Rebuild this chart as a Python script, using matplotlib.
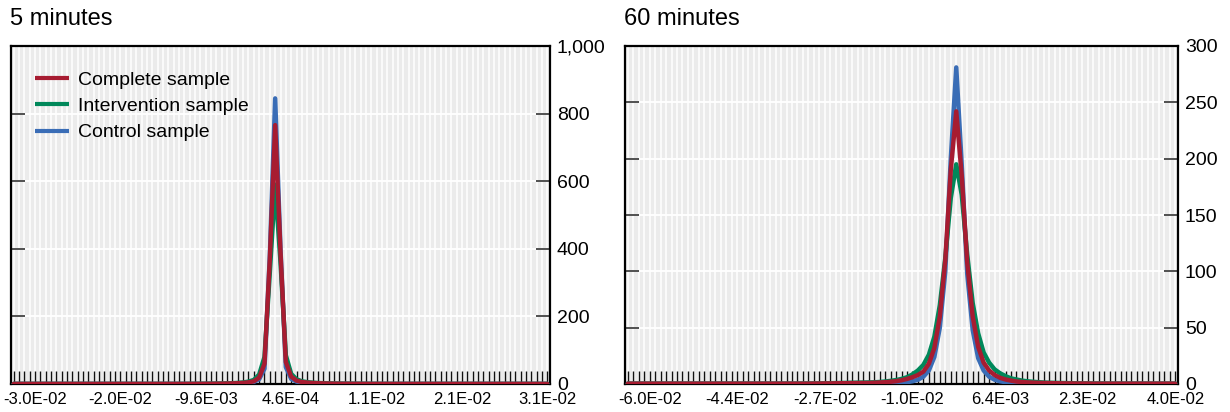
import matplotlib
matplotlib.use("Agg")
import matplotlib.pyplot as plt
from matplotlib.ticker import FixedLocator, FuncFormatter
import numpy as np

plt.rcParams['font.family'] = ['Liberation Sans', 'DejaVu Sans']

# ---------------- data ----------------
titles = ["5 minutes", "60 minutes"]
series_names = ["Complete sample", "Intervention sample", "Control sample"]

xlabels_5 = ["-3.0E-02", "-2.0E-02", "-9.6E-03", "4.6E-04", "1.1E-02", "2.1E-02", "3.1E-02"]
xlabels_60 = ["-6.0E-02", "-4.4E-02", "-2.7E-02", "-1.0E-02", "6.4E-03", "2.3E-02", "4.0E-02"]
ylim_5 = 1000
ylim_60 = 300
yticks_5 = [0, 200, 400, 600, 800, 1000]
yticks_60 = [0, 50, 100, 150, 200, 250, 300]

complete_5 = [0.3, 0.3, 0.3, 0.3, 0.3, 0.3, 0.3, 0.3, 0.3, 0.3,
              0.3, 0.3, 0.3, 0.3, 0.3, 0.3, 0.3, 0.3, 0.3, 0.3,
              0.3, 0.3, 0.3, 0.3, 0.3, 0.3, 0.3, 0.3, 0.3, 0.3,
              0.3, 0.3, 0.3, 0.3, 0.4, 0.4, 0.5, 0.6, 0.8, 1.0,
              1.3, 1.7, 2.3, 3.2, 4.8, 8, 19, 60, 370, 766,
              390, 65, 22, 10, 6, 4, 3, 2.2, 1.7, 1.3,
              1.0, 0.8, 0.7, 0.6, 0.5, 0.4, 0.4, 0.3, 0.3, 0.3,
              0.3, 0.3, 0.3, 0.3, 0.3, 0.3, 0.3, 0.3, 0.3, 0.3,
              0.3, 0.3, 0.3, 0.3, 0.3, 0.3, 0.3, 0.3, 0.3, 0.3,
              0.3, 0.3, 0.3, 0.3, 0.3, 0.3, 0.3, 0.3, 0.3, 0.3,
              0.3]
intervention_5 = [0.3, 0.3, 0.3, 0.3, 0.3, 0.3, 0.3, 0.3, 0.3, 0.3,
                  0.3, 0.3, 0.3, 0.3, 0.3, 0.3, 0.3, 0.3, 0.3, 0.3,
                  0.3, 0.3, 0.3, 0.3, 0.3, 0.3, 0.3, 0.3, 0.3, 0.3,
                  0.3, 0.3, 0.3, 0.4, 0.5, 0.6, 0.7, 0.9, 1.1, 1.4,
                  1.8, 2.4, 3.3, 4.6, 7, 12, 28, 80, 330, 590,
                  360, 85, 30, 14, 8, 5.5, 4, 3, 2.3, 1.8,
                  1.4, 1.1, 0.9, 0.8, 0.7, 0.6, 0.5, 0.4, 0.4, 0.3,
                  0.3, 0.3, 0.3, 0.3, 0.3, 0.3, 0.3, 0.3, 0.3, 0.3,
                  0.3, 0.3, 0.3, 0.3, 0.3, 0.3, 0.3, 0.3, 0.3, 0.3,
                  0.3, 0.3, 0.3, 0.3, 0.3, 0.3, 0.3, 0.3, 0.3, 0.3,
                  0.3]
control_5 = [0.2, 0.2, 0.2, 0.2, 0.2, 0.2, 0.2, 0.2, 0.2, 0.2,
             0.2, 0.2, 0.2, 0.2, 0.2, 0.2, 0.2, 0.2, 0.2, 0.2,
             0.2, 0.2, 0.2, 0.2, 0.2, 0.2, 0.2, 0.2, 0.2, 0.2,
             0.2, 0.2, 0.2, 0.2, 0.2, 0.3, 0.3, 0.4, 0.5, 0.6,
             0.8, 1.1, 1.5, 2.2, 3.3, 6, 14, 45, 380, 845,
             400, 50, 15, 7, 4, 2.8, 2, 1.5, 1.1, 0.9,
             0.7, 0.6, 0.5, 0.4, 0.3, 0.3, 0.3, 0.2, 0.2, 0.2,
             0.2, 0.2, 0.2, 0.2, 0.2, 0.2, 0.2, 0.2, 0.2, 0.2,
             0.2, 0.2, 0.2, 0.2, 0.2, 0.2, 0.2, 0.2, 0.2, 0.2,
             0.2, 0.2, 0.2, 0.2, 0.2, 0.2, 0.2, 0.2, 0.2, 0.2,
             0.2]

complete_60 = [0.3, 0.3, 0.3, 0.3, 0.3, 0.3, 0.3, 0.3, 0.3, 0.3,
               0.3, 0.3, 0.3, 0.3, 0.3, 0.3, 0.3, 0.3, 0.3, 0.3,
               0.3, 0.3, 0.3, 0.3, 0.3, 0.3, 0.3, 0.3, 0.3, 0.3,
               0.3, 0.3, 0.3, 0.3, 0.4, 0.4, 0.5, 0.5, 0.6, 0.7,
               0.7, 0.8, 0.8, 0.9, 0.9, 1.1, 1.3, 1.6, 2.0, 2.5,
               3.3, 4.5, 6, 8, 11, 18, 32, 60, 110, 190,
               242, 185, 108, 60, 33, 19, 12, 8, 5.5, 4,
               3, 2.2, 1.8, 1.4, 1.2, 1.0, 0.9, 0.8, 0.7, 0.6,
               0.5, 0.5, 0.4, 0.4, 0.4, 0.3, 0.3, 0.3, 0.3, 0.3,
               0.3, 0.3, 0.3, 0.3, 0.3, 0.3, 0.3, 0.3, 0.3, 0.3,
               0.3]
intervention_60 = [0.3, 0.3, 0.3, 0.3, 0.3, 0.3, 0.3, 0.3, 0.3, 0.3,
                   0.3, 0.3, 0.3, 0.3, 0.3, 0.3, 0.3, 0.3, 0.3, 0.3,
                   0.3, 0.3, 0.3, 0.3, 0.3, 0.3, 0.3, 0.3, 0.3, 0.3,
                   0.3, 0.3, 0.4, 0.4, 0.5, 0.5, 0.6, 0.7, 0.8, 0.9,
                   1.0, 1.1, 1.2, 1.3, 1.4, 1.5, 1.8, 2.2, 2.8, 3.5,
                   4.5, 6, 8.5, 12, 17, 26, 42, 70, 112, 165,
                   195, 168, 115, 72, 45, 28, 19, 13, 9.5, 7,
                   5, 4, 3, 2.4, 2.0, 1.6, 1.3, 1.1, 1.0, 0.9,
                   0.8, 0.7, 0.6, 0.5, 0.5, 0.4, 0.4, 0.4, 0.3, 0.3,
                   0.3, 0.3, 0.3, 0.3, 0.3, 0.3, 0.3, 0.3, 0.3, 0.3,
                   0.3]
control_60 = [0.2, 0.2, 0.2, 0.2, 0.2, 0.2, 0.2, 0.2, 0.2, 0.2,
              0.2, 0.2, 0.2, 0.2, 0.2, 0.2, 0.2, 0.2, 0.2, 0.2,
              0.2, 0.2, 0.2, 0.2, 0.2, 0.2, 0.2, 0.2, 0.2, 0.2,
              0.2, 0.2, 0.2, 0.2, 0.2, 0.2, 0.2, 0.2, 0.2, 0.2,
              0.2, 0.3, 0.3, 0.3, 0.4, 0.4, 0.5, 0.6, 0.7, 0.8,
              1.1, 1.6, 2.4, 3.8, 6.5, 12, 24, 50, 100, 200,
              281, 195, 98, 48, 23, 12, 6.5, 3.8, 2.4, 1.6,
              1.1, 0.8, 0.6, 0.5, 0.4, 0.3, 0.3, 0.3, 0.2, 0.2,
              0.2, 0.2, 0.2, 0.2, 0.2, 0.2, 0.2, 0.2, 0.2, 0.2,
              0.2, 0.2, 0.2, 0.2, 0.2, 0.2, 0.2, 0.2, 0.2, 0.2,
              0.2]

# ---------------- style ----------------
RED = '#A71C31'
GREEN = '#00885A'
BLUE = '#3A6DB6'
BG = '#EBEBEB'

W, H = 1230, 412
fig = plt.figure(figsize=(W / 100, H / 100), dpi=100)

def px_axes(x0, x1, y0, y1):
    return fig.add_axes([x0 / W, 1 - y1 / H, (x1 - x0) / W, (y1 - y0) / H])

ax1 = px_axes(11, 550, 46, 384)
ax2 = px_axes(625, 1178, 46, 384)

panels = [
    (ax1, titles[0], xlabels_5, ylim_5, yticks_5, complete_5, intervention_5, control_5),
    (ax2, titles[1], xlabels_60, ylim_60, yticks_60, complete_60, intervention_60, control_60),
]

LW = 3.2
for ax, title, xl, ylim, yt, comp, interv, ctrl in panels:
    n = len(comp)
    x = np.arange(n)
    ax.set_facecolor(BG)
    ax.plot(x, ctrl, color=BLUE, lw=LW, solid_capstyle='round', solid_joinstyle='round',
            label=series_names[2], zorder=3)
    ax.plot(x, interv, color=GREEN, lw=LW, solid_capstyle='round', solid_joinstyle='round',
            label=series_names[1], zorder=4)
    ax.plot(x, comp, color=RED, lw=LW, solid_capstyle='round', solid_joinstyle='round',
            label=series_names[0], zorder=5)
    ax.set_xlim(-0.5, n - 0.5)
    ax.set_ylim(0, ylim)

    label_pos = [4 + 16 * k for k in range(len(xl))]
    ax.xaxis.set_major_locator(FixedLocator(label_pos))
    ax.set_xticklabels(xl)
    minor = [i for i in range(n) if i not in label_pos]
    ax.xaxis.set_minor_locator(FixedLocator(minor))
    ax.tick_params(axis='x', which='both', direction='in', length=9.5, width=1.0,
                   color='#111111', labelsize=12, pad=6, top=False)

    ax.yaxis.set_major_locator(FixedLocator(yt))
    ax.yaxis.set_major_formatter(FuncFormatter(lambda v, p: f"{int(v):,}"))
    ax.tick_params(axis='y', which='major', direction='in', length=10, width=1.2,
                   color='#333333', left=True, right=True, labelleft=False,
                   labelright=True, labelsize=14, pad=5)

    ax.grid(True, axis='x', which='both', color='white', lw=1.1, zorder=0)
    ax.grid(True, axis='y', which='major', color='white', lw=1.3, zorder=0)
    ax.set_axisbelow(True)
    for s in ax.spines.values():
        s.set_color('black')
        s.set_linewidth(1.6)
    ax.set_title(title, loc='left', fontsize=17, pad=15, x=-0.002)

leg = ax1.legend(handles=ax1.get_lines()[::-1], loc='upper left', frameon=False,
                 fontsize=14, handlelength=1.7, handletextpad=0.5, labelspacing=0.45,
                 borderaxespad=0.0, bbox_to_anchor=(0.031, 0.949))
for h in leg.get_lines():
    h.set_linewidth(3.0)
    h.set_solid_capstyle('butt')

fig.savefig('out.png', dpi=100)
